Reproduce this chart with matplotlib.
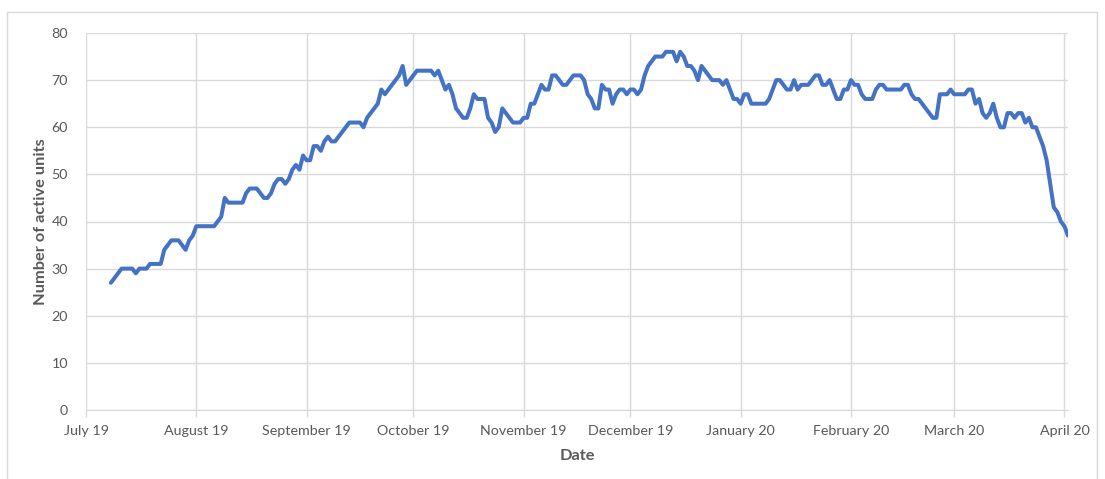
import matplotlib
matplotlib.use("Agg")
import matplotlib.pyplot as plt
import pandas as pd
from matplotlib.patches import Rectangle

plt.rcParams["font.family"] = ["Lato", "DejaVu Sans"]

# Daily count of active units, one list per month (series starts 8 July 2019)
jul = [27, 28, 29, 30, 30, 30, 30, 29, 30, 30, 30, 31, 31, 31, 31, 34, 35, 36,
       36, 36, 35, 34, 36, 37]
aug = [39, 39, 39, 39, 39, 39, 40, 41, 45, 44, 44, 44, 44, 44, 46, 47, 47, 47,
       46, 45, 45, 46, 48, 49, 49, 48, 49, 51, 52, 51, 54]
sep = [53, 53, 56, 56, 55, 57, 58, 57, 57, 58, 59, 60, 61, 61, 61, 61, 60, 62,
       63, 64, 65, 68, 67, 68, 69, 70, 71, 73, 69, 70]
oct_ = [71, 72, 72, 72, 72, 72, 71, 72, 70, 68, 69, 67, 64, 63, 62, 62, 64, 67,
        66, 66, 66, 62, 61, 59, 60, 64, 63, 62, 61, 61, 61]
nov = [62, 62, 65, 65, 67, 69, 68, 68, 71, 71, 70, 69, 69, 70, 71, 71, 71, 70,
       67, 66, 64, 64, 69, 68, 68, 65, 67, 68, 68, 67]
dec = [68, 68, 67, 68, 71, 73, 74, 75, 75, 75, 76, 76, 76, 74, 76, 75, 73, 73,
       72, 70, 73, 72, 71, 70, 70, 70, 69, 70, 68, 66, 66]
jan = [65, 67, 67, 65, 65, 65, 65, 65, 66, 68, 70, 70, 69, 68, 68, 70, 68, 69,
       69, 69, 70, 71, 71, 69, 69, 70, 68, 66, 66, 68, 68]
feb = [70, 69, 69, 67, 66, 66, 66, 68, 69, 69, 68, 68, 68, 68, 68, 69, 69, 67,
       66, 66, 65, 64, 63, 62, 62, 67, 67, 67, 68]
mar = [67, 67, 67, 67, 68, 68, 65, 66, 63, 62, 63, 65, 62, 60, 60, 63, 63, 62,
       63, 63, 61, 62, 60, 60, 58, 56, 53, 48, 43, 42, 40]
apr = [39, 37]

series_start = "2019-07-08"
tick_labels = ["July 19", "August 19", "September 19", "October 19",
               "November 19", "December 19", "January 20", "February 20",
               "March 20", "April 20"]

values = jul + aug + sep + oct_ + nov + dec + jan + feb + mar + apr
dates = pd.date_range(series_start, periods=len(values), freq="D")
month_ticks = pd.date_range("2019-07-01", periods=len(tick_labels), freq="MS")

W, H = 1105, 479
fig = plt.figure(figsize=(W / 100, H / 100), dpi=100)
fig.patch.set_facecolor("white")

# chart-area frame (runs off the bottom edge)
fig.add_artist(Rectangle((7 / W, -5 / H), (1097 - 7) / W, (467 + 5 - 0) / H,
                         transform=fig.transFigure, fill=False,
                         edgecolor="#D9D9D9", lw=1))

ax = fig.add_axes([86 / W, 1 - 410 / H, (1068 - 86) / W, (410 - 33) / H])
ax.plot(dates, values, color="#4472C4", lw=2.9,
        solid_capstyle="round", solid_joinstyle="round", zorder=3)

ax.set_xlim(pd.Timestamp("2019-07-01"), dates[-1])
ax.set_ylim(0, 80)
ax.set_yticks(range(0, 81, 10))
ax.set_xticks(month_ticks)
ax.set_xticklabels(tick_labels)

ax.grid(True, color="#D9D9D9", lw=1)
ax.set_axisbelow(True)
for side in ["top", "right", "left"]:
    ax.spines[side].set_visible(False)
ax.spines["bottom"].set_color("#D9D9D9")
ax.tick_params(axis="x", length=5, width=1, color="#D9D9D9", pad=6,
               labelsize=10.3, labelcolor="#595959")
ax.tick_params(axis="y", length=0, pad=13, labelsize=10.3, labelcolor="#595959")

ax.set_ylabel("Number of active units", fontsize=11.8, fontweight="bold",
              color="#595959")
ax.yaxis.set_label_coords(-0.039, 0.5)
ax.set_xlabel("Date", fontsize=11.8, fontweight="bold", color="#595959")
ax.xaxis.set_label_coords(0.5, -0.103)

fig.savefig("out.png", dpi=100, facecolor="white")
